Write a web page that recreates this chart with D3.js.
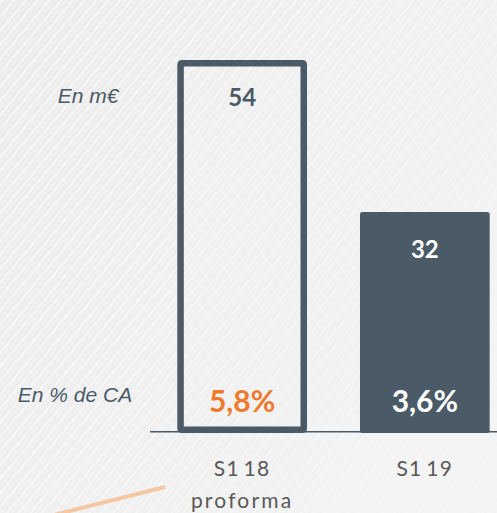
<!DOCTYPE html>
<html>
<head>
<meta charset="utf-8">
<script src="https://cdn.jsdelivr.net/npm/d3@7"></script>
<style>
  html, body { margin: 0; padding: 0; background: #efefef; }
  svg { display: block; }
</style>
</head>
<body>
<div id="chart"></div>
<script>
// chart data
var periods = ["S1 18\nproforma", "S1 19"];
var values = [54, 32];
var valueLabels = ["54", "32"];
var pctLabels = ["5,8%", "3,6%"];
var unitLabel = "En m€";
var pctLabel = "En % de CA";

var width = 497, height = 513;
var slate = "#4a5a67", orange = "#ef7a2c";

var svg = d3.select("#chart")
  .append("svg")
  .attr("width", width)
  .attr("height", height)
  .attr("viewBox", [0, 0, width, height]);

// paper-like background
var defs = svg.append("defs");
var pat = defs.append("pattern")
  .attr("id", "paper")
  .attr("width", 9).attr("height", 9)
  .attr("patternUnits", "userSpaceOnUse")
  .attr("patternTransform", "rotate(-50)");
pat.append("rect").attr("width", 9).attr("height", 9).attr("fill", "#eaeaea");
pat.append("line").attr("x1", 0).attr("y1", 2).attr("x2", 9).attr("y2", 2)
  .attr("stroke", "#f7f7f7").attr("stroke-width", 2.2);
pat.append("line").attr("x1", 0).attr("y1", 6).attr("x2", 9).attr("y2", 6)
  .attr("stroke", "#f3f3f3").attr("stroke-width", 1.2);
var grad = defs.append("linearGradient")
  .attr("id", "fade")
  .attr("x1", 0).attr("y1", 0).attr("x2", 1).attr("y2", 0.6);
grad.append("stop").attr("offset", "0%").attr("stop-color", "#f4f4f4").attr("stop-opacity", 0.05);
grad.append("stop").attr("offset", "55%").attr("stop-color", "#f4f4f4").attr("stop-opacity", 0.5);
grad.append("stop").attr("offset", "100%").attr("stop-color", "#f5f5f5").attr("stop-opacity", 0.85);

svg.append("rect").attr("width", width).attr("height", height).attr("fill", "url(#paper)");
svg.append("rect").attr("width", width).attr("height", height).attr("fill", "url(#fade)");

var x = d3.scaleBand()
  .domain(periods)
  .range([170, 497])
  .paddingInner(0.29)
  .paddingOuter(0.04);

var y = d3.scaleLinear()
  .domain([0, 54])
  .range([433, 60]);

// baseline
svg.append("line")
  .attr("x1", 150).attr("x2", width)
  .attr("y1", y(0) - 1.3).attr("y2", y(0) - 1.3)
  .attr("stroke", slate)
  .attr("stroke-width", 1.5);

// decorative stroke bottom-left
svg.append("line")
  .attr("x1", 165).attr("y1", 487)
  .attr("x2", -10).attr("y2", 531)
  .attr("stroke", "#f5c7a4")
  .attr("stroke-width", 4);

var sw = 6.5;
var bars = svg.append("g").selectAll("g")
  .data(periods.map((p, i) => ({period: p, value: values[i], label: valueLabels[i], pct: pctLabels[i], i: i})))
  .join("g");

bars.append("rect")
  .attr("x", d => d.i === 0 ? x(d.period) + sw / 2 : x(d.period))
  .attr("y", d => d.i === 0 ? y(d.value) + sw / 2 : y(d.value))
  .attr("width", d => d.i === 0 ? x.bandwidth() - sw : x.bandwidth())
  .attr("height", d => d.i === 0 ? y(0) - y(d.value) - sw : y(0) - y(d.value))
  .attr("rx", d => d.i === 0 ? 1 : 2.5)
  .attr("fill", d => d.i === 0 ? "#f3f3f3" : slate)
  .attr("fill-opacity", d => d.i === 0 ? 0.3 : 1)
  .attr("stroke", d => d.i === 0 ? slate : "none")
  .attr("stroke-width", sw);

bars.append("text")
  .attr("x", d => x(d.period) + x.bandwidth() / 2)
  .attr("y", d => y(d.value) + 46)
  .attr("text-anchor", "middle")
  .attr("font-family", "Lato, 'Open Sans', sans-serif")
  .attr("font-weight", "bold")
  .attr("font-size", 24)
  .attr("fill", d => d.i === 0 ? slate : "#ffffff")
  .text(d => d.label);

bars.append("text")
  .attr("x", d => x(d.period) + x.bandwidth() / 2)
  .attr("y", y(0) - 21.5)
  .attr("text-anchor", "middle")
  .attr("font-family", "Lato, 'Open Sans', sans-serif")
  .attr("font-weight", "bold")
  .attr("font-size", 30)
  .attr("fill", d => d.i === 0 ? orange : "#ffffff")
  .text(d => d.pct);

// category labels
bars.append("text")
  .attr("x", d => x(d.period) + x.bandwidth() / 2)
  .attr("y", 476)
  .attr("text-anchor", "middle")
  .attr("font-family", "Lato, 'Open Sans', sans-serif")
  .attr("font-size", 21)
  .attr("fill", "#595959")
  .selectAll("tspan")
  .data(d => d.period.split("\n"))
  .join("tspan")
    .attr("x", function() { var p = d3.select(this.parentNode).datum(); return x(p.period) + x.bandwidth() / 2; })
    .attr("dy", (d, i) => i ? 32 : 0)
    .attr("letter-spacing", (d, i) => i ? 2.2 : 1.3)
    .attr("word-spacing", -3)
    .text(d => d);

// side labels
svg.append("text")
  .attr("x", 88).attr("y", 102.7)
  .attr("text-anchor", "middle")
  .attr("font-family", "'Liberation Sans', Arial, sans-serif")
  .attr("font-style", "italic")
  .attr("font-size", 21)
  .attr("fill", slate)
  .text(unitLabel);

svg.append("text")
  .attr("x", 75).attr("y", 401.7)
  .attr("text-anchor", "middle")
  .attr("font-family", "'Liberation Sans', Arial, sans-serif")
  .attr("font-style", "italic")
  .attr("font-size", 21)
  .attr("fill", slate)
  .text(pctLabel);
</script>
</body>
</html>
